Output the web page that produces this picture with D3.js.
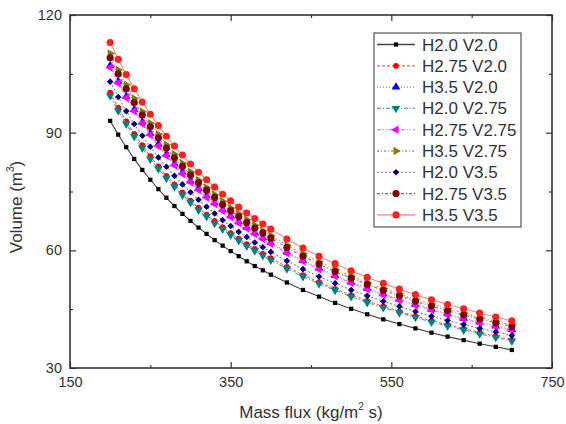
<!DOCTYPE html>
<html>
<head>
<meta charset="utf-8">
<style>
  body { margin: 0; background: #fff; }
  text { font-family: "Liberation Sans", Arial, sans-serif; fill: #333; }
</style>
<title>Volume vs mass flux</title>
</head>
<body>
<script src="https://cdn.jsdelivr.net/npm/d3@7"></script>
<script>
// mass flux values (kg/m2 s)
var massFlux = [200, 210, 220, 230, 240, 250, 260, 270, 280, 290, 300, 310, 320, 330, 340, 350, 360, 370, 380, 390, 400,
                420, 440, 460, 480, 500, 520, 540, 560, 580, 600, 620, 640, 660, 680, 700];

var seriesNames = ["H2.0 V2.0", "H2.75 V2.0", "H3.5 V2.0", "H2.0 V2.75", "H2.75 V2.75", "H3.5 V2.75", "H2.0 V3.5", "H2.75 V3.5", "H3.5 V3.5"];

// volume (m3)
var h20v20 = [93.0, 89.5, 86.3, 83.3, 80.5, 78.0, 75.6, 73.4, 71.3, 69.3, 67.5, 65.8, 64.2, 62.6, 61.2, 59.8, 58.5, 57.2, 56.0, 54.9, 53.8,
              51.8, 49.9, 48.2, 46.6, 45.1, 43.7, 42.4, 41.2, 40.1, 39.0, 38.0, 37.1, 36.2, 35.4, 34.6];
var h275v20 = [100.2, 96.4, 92.9, 89.7, 86.8, 84.0, 81.4, 79.0, 76.8, 74.7, 72.7, 70.9, 69.1, 67.5, 65.9, 64.4, 63.0, 61.6, 60.4, 59.1, 58.0,
               55.8, 53.7, 51.9, 50.2, 48.6, 47.1, 45.7, 44.4, 43.2, 42.1, 41.0, 40.0, 39.0, 38.1, 37.2];
var h35v20 = [107.1, 103.1, 99.3, 95.9, 92.7, 89.8, 87.1, 84.5, 82.1, 79.9, 77.7, 75.8, 73.9, 72.1, 70.4, 68.8, 67.3, 65.9, 64.5, 63.2, 61.9,
              59.6, 57.4, 55.5, 53.6, 51.9, 50.3, 48.9, 47.5, 46.2, 45.0, 43.8, 42.7, 41.7, 40.7, 39.8];
var h20v275 = [99.4, 95.6, 92.2, 89.0, 86.1, 83.3, 80.8, 78.4, 76.2, 74.1, 72.2, 70.3, 68.6, 66.9, 65.4, 63.9, 62.5, 61.1, 59.9, 58.7, 57.5,
               55.3, 53.3, 51.5, 49.8, 48.2, 46.7, 45.4, 44.1, 42.9, 41.7, 40.7, 39.7, 38.7, 37.8, 36.9];
var h275v275 = [106.6, 102.6, 98.9, 95.5, 92.3, 89.4, 86.6, 84.1, 81.7, 79.5, 77.4, 75.4, 73.5, 71.8, 70.1, 68.5, 67.0, 65.6, 64.2, 62.9, 61.7,
                59.3, 57.2, 55.2, 53.4, 51.7, 50.1, 48.6, 47.3, 46.0, 44.8, 43.6, 42.5, 41.5, 40.5, 39.6];
var h35v275 = [110.2, 106.0, 102.2, 98.7, 95.4, 92.4, 89.6, 86.9, 84.5, 82.2, 80.0, 77.9, 76.0, 74.2, 72.5, 70.8, 69.3, 67.8, 66.4, 65.0, 63.7,
               61.3, 59.1, 57.1, 55.2, 53.4, 51.8, 50.3, 48.9, 47.5, 46.3, 45.1, 44.0, 42.9, 41.9, 41.0];
var h20v35 = [103.0, 99.1, 95.5, 92.2, 89.2, 86.4, 83.7, 81.3, 79.0, 76.8, 74.8, 72.9, 71.1, 69.4, 67.7, 66.2, 64.7, 63.4, 62.0, 60.8, 59.6,
              57.3, 55.2, 53.3, 51.6, 49.9, 48.4, 47.0, 45.7, 44.4, 43.2, 42.1, 41.1, 40.1, 39.2, 38.3];
var h275v35 = [109.1, 105.0, 101.2, 97.7, 94.5, 91.5, 88.7, 86.1, 83.6, 81.4, 79.2, 77.2, 75.3, 73.5, 71.7, 70.1, 68.6, 67.1, 65.7, 64.4, 63.1,
               60.7, 58.5, 56.5, 54.6, 52.9, 51.3, 49.8, 48.4, 47.0, 45.8, 44.6, 43.5, 42.5, 41.5, 40.6];
var h35v35 = [113.0, 108.7, 104.8, 101.2, 97.8, 94.7, 91.8, 89.1, 86.6, 84.3, 82.0, 79.9, 78.0, 76.1, 74.3, 72.6, 71.0, 69.5, 68.1, 66.7, 65.4,
              62.9, 60.6, 58.5, 56.6, 54.8, 53.1, 51.6, 50.1, 48.7, 47.4, 46.2, 45.1, 44.0, 43.0, 42.0];

var xTicks = [150, 350, 550, 750];
var yTicks = [30, 60, 90, 120];

var seriesValues = [h20v20, h275v20, h35v20, h20v275, h275v275, h35v275, h20v35, h275v35, h35v35];

// drawing style for each series: colour, dash, marker
var styles = [
  {color: "#000000", line: "#444", dash: null,              sym: d3.symbolSquare,   size: 18, rot: 0},
  {color: "#ff0000", line: "#ff6060", dash: "3,2",         sym: d3.symbolCircle,   size: 26, rot: 0},
  {color: "#0000ff", line: "#8080ff", dash: "1,2",         sym: d3.symbolTriangle, size: 32, rot: 0},
  {color: "#008080", line: "#60a0a0", dash: "4,2,1,2",     sym: d3.symbolTriangle, size: 32, rot: 180},
  {color: "#ff00ff", line: "#ff70ff", dash: "4,2,1,2,1,2", sym: d3.symbolTriangle, size: 32, rot: -90},
  {color: "#808000", line: "#a0a060", dash: "2,2,1,2",     sym: d3.symbolTriangle, size: 32, rot: 90},
  {color: "#000080", line: "#8080c0", dash: "2,2",         sym: d3.symbolSquare,   size: 22, rot: 45},
  {color: "#800000", line: "#b06060", dash: "3,2,1,2",     sym: d3.symbolCircle,   size: 40, rot: 0},
  {color: "#ff2020", line: "#ff8080", dash: null,          sym: d3.symbolCircle,   size: 40, rot: 0}
];

var W = 566, H = 424;
var margin = {top: 15, right: 14, bottom: 56, left: 70};
var width = W - margin.left - margin.right,
    height = H - margin.top - margin.bottom;

var svg = d3.select("body").append("svg").attr("width", W).attr("height", H);
var g = svg.append("g").attr("transform", "translate(" + margin.left + "," + margin.top + ")");

var x = d3.scaleLinear().domain([150, 750]).range([0, width]);
var y = d3.scaleLinear().domain([30, 120]).range([height, 0]);

// axes, ticks pointing inward on all four sides
function styleAxis(sel) {
  sel.select(".domain").remove();
  sel.selectAll("line").attr("stroke", "#333").attr("stroke-width", 1.2);
  sel.selectAll("text").attr("font-size", 14.5).attr("fill", "#333")
     .attr("font-family", "Liberation Sans, Arial, sans-serif");
}
var xMinor = [250, 450, 650], yMinor = [45, 75, 105];

g.append("g").attr("transform", "translate(0," + height + ")")
  .call(d3.axisBottom(x).tickValues(xTicks).tickSizeInner(-6).tickSizeOuter(0).tickPadding(9))
  .call(styleAxis);
g.append("g").attr("transform", "translate(0," + height + ")")
  .call(d3.axisBottom(x).tickValues(xMinor).tickSizeInner(-3).tickSizeOuter(0).tickFormat(""))
  .call(styleAxis);
g.append("g")
  .call(d3.axisTop(x).tickValues(xTicks).tickSizeInner(-6).tickSizeOuter(0).tickFormat(""))
  .call(styleAxis);
g.append("g")
  .call(d3.axisTop(x).tickValues(xMinor).tickSizeInner(-3).tickSizeOuter(0).tickFormat(""))
  .call(styleAxis);

g.append("g")
  .call(d3.axisLeft(y).tickValues(yTicks).tickSizeInner(-6).tickSizeOuter(0).tickPadding(8))
  .call(styleAxis);
g.append("g")
  .call(d3.axisLeft(y).tickValues(yMinor).tickSizeInner(-3).tickSizeOuter(0).tickFormat(""))
  .call(styleAxis);
g.append("g").attr("transform", "translate(" + width + ",0)")
  .call(d3.axisRight(y).tickValues(yTicks).tickSizeInner(-6).tickSizeOuter(0).tickFormat(""))
  .call(styleAxis);
g.append("g").attr("transform", "translate(" + width + ",0)")
  .call(d3.axisRight(y).tickValues(yMinor).tickSizeInner(-3).tickSizeOuter(0).tickFormat(""))
  .call(styleAxis);

// plot frame
g.append("rect").attr("width", width).attr("height", height)
  .attr("fill", "none").attr("stroke", "#333").attr("stroke-width", 1.6);

// series
var line = d3.line().x(function(d) { return x(d[0]); }).y(function(d) { return y(d[1]); });

seriesValues.forEach(function(vals, i) {
  var st = styles[i];
  var pts = massFlux.map(function(m, j) { return [m, vals[j]]; });
  var sg = g.append("g");
  sg.append("path").datum(pts).attr("d", line)
    .attr("fill", "none").attr("stroke", st.line).attr("stroke-width", 1.1)
    .attr("stroke-dasharray", st.dash);
  sg.selectAll("path.pt").data(pts).join("path").attr("class", "pt")
    .attr("d", d3.symbol().type(st.sym).size(st.size))
    .attr("transform", function(d) { return "translate(" + x(d[0]) + "," + y(d[1]) + ") rotate(" + st.rot + ")"; })
    .attr("fill", st.color);
});

// legend
var leg = svg.append("g");
leg.append("rect").attr("x", 374).attr("y", 33).attr("width", 147).attr("height", 194)
  .attr("fill", "#fff").attr("stroke", "#555").attr("stroke-width", 1.2);
seriesNames.forEach(function(name, i) {
  var st = styles[i];
  var ly = 44.5 + i * 21.3;
  leg.append("line").attr("x1", 377).attr("x2", 415).attr("y1", ly).attr("y2", ly)
    .attr("stroke", st.line).attr("stroke-width", 1.3).attr("stroke-dasharray", st.dash);
  leg.append("path").attr("d", d3.symbol().type(st.sym).size(st.size)())
    .attr("transform", "translate(396," + ly + ") rotate(" + st.rot + ")")
    .attr("fill", st.color);
  leg.append("text").attr("x", 422).attr("y", ly + 6).attr("font-size", 17).text(name);
});

// axis titles
var xt = svg.append("text").attr("x", margin.left + width / 2).attr("y", 418)
  .attr("text-anchor", "middle").attr("font-size", 17);
xt.append("tspan").text("Mass flux  (kg/m");
xt.append("tspan").attr("font-size", 10).attr("dy", -8).text("2");
xt.append("tspan").attr("dy", 8).text(" s)");

var yt = svg.append("text").attr("transform", "translate(22,207) rotate(-90)")
  .attr("text-anchor", "middle").attr("font-size", 17);
yt.append("tspan").text("Volume (m");
yt.append("tspan").attr("font-size", 10).attr("dy", -8).text("3");
yt.append("tspan").attr("dy", 8).text(")");
</script>
</body>
</html>
